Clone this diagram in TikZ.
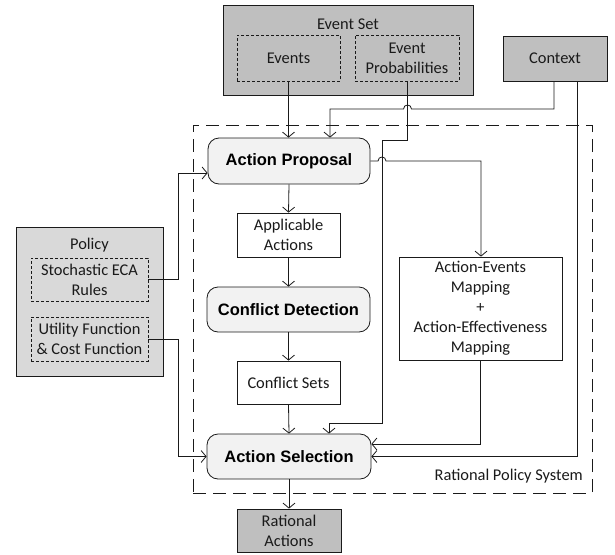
\documentclass[tikz,border=0pt]{standalone}
\usepackage{fontspec}
\setmainfont{Carlito}
\newfontfamily\arialfont{Liberation Sans}
\usetikzlibrary{arrows.meta}
\definecolor{darkfill}{HTML}{BFBFBF}
\definecolor{lightfill}{HTML}{D9D9D9}
\definecolor{procfill}{HTML}{F2F2F2}
\definecolor{ink}{HTML}{1A1A1A}
\tikzset{
  txt/.style={font=\fontsize{16.4}{20}\selectfont, text=ink, align=center, inner sep=0pt},
  darkbox/.style={txt, draw=ink, line width=0.8pt, fill=darkfill},
  lightbox/.style={txt, draw=ink, line width=0.8pt, fill=lightfill},
  dashbox/.style={txt, draw=ink, line width=0.7pt, dash pattern=on 3pt off 2pt},
  plainbox/.style={txt, draw=ink, line width=0.8pt, fill=white},
  proc/.style={draw=ink, line width=0.8pt, fill=procfill, rounded corners=11pt, inner sep=0pt,
    align=center, text=black, font=\arialfont\bfseries\fontsize{16.5}{20}\selectfont},
  sysbox/.style={draw=ink, line width=0.8pt, dash pattern=on 13pt off 7pt, inner sep=0pt},
  wire/.style={draw=ink, line width=0.8pt},
  arr/.style={wire, -{Straight Barb[length=5pt,width=12pt]}},
}
\begin{document}
\begin{tikzpicture}[x=1pt,y=-1pt]
\useasboundingbox (0,0) rectangle (615,554);
% system boundary
\node[sysbox, minimum width=399pt, minimum height=368pt] (sys) at (392.5,309) {};
\node[txt, anchor=east] (rpslbl) at (583,476) {Rational Policy System};
% event set
\node[darkbox, minimum width=250pt, minimum height=90pt] (es) at (348,50) {};
\node[txt] (eslbl) at (348,24) {Event Set};
\node[dashbox, minimum width=103pt, minimum height=46pt] (ev) at (288.5,58) {Events};
\node[dashbox, minimum width=104pt, minimum height=46pt] (ep) at (407,58) {Event\\Probabilities};
% context
\node[darkbox, minimum width=104pt, minimum height=45pt] (ctx) at (555,58.5) {Context};
% main column
\node[proc, minimum width=162pt, minimum height=46pt] (ap) at (289,161) {Action Proposal};
\node[plainbox, minimum width=103pt, minimum height=44pt] (aa) at (288.5,235) {Applicable\\Actions};
\node[proc, minimum width=163pt, minimum height=45pt] (cd) at (288.5,309.5) {Conflict Detection};
\node[plainbox, minimum width=103pt, minimum height=43pt] (cs) at (288.5,382.5) {Conflict Sets};
\node[proc, minimum width=164pt, minimum height=45pt] (as) at (289,456.5) {Action Selection};
\node[darkbox, minimum width=104pt, minimum height=43pt] (ra) at (289,530.5) {Rational\\Actions};
% mapping
\node[plainbox, minimum width=163pt, minimum height=103pt] (aem) at (480.5,308.5)
  {Action-Events\\Mapping\\+\\Action-Effectiveness\\Mapping};
% policy
\node[lightbox, minimum width=147pt, minimum height=149pt] (pol) at (89.5,301.5) {};
\node[txt] (pollbl) at (89.5,245) {Policy};
\node[dashbox, minimum width=117pt, minimum height=43pt] (sr) at (89.5,279.5) {Stochastic ECA\\Rules};
\node[dashbox, minimum width=117pt, minimum height=44pt] (uf) at (89.5,339) {Utility Function\\\& Cost Function};
% connectors
\draw[arr] (ev.south) -- (ev.south |- ap.north);
\draw[arr] (ctx.south -| 554,0) -- (554,109) -- (411.5,109)
  .. controls (411.5,103.7) and (403.5,103.7) .. (403.5,109) -- (330,109) -- (330,0 |- ap.north);
\draw[arr] (ep.south) -- (407,140) -- (382,140) -- (382,423) -- (329,423) -- (329,0 |- as.north);
\draw[arr] (ap.east) -- (378,161) .. controls (378,155.7) and (386,155.7) .. (386,161)
  -- (481,161) -- (481,0 |- aem.north);
\draw[arr] (aem.south) -- (480.5,444) -- (as.east |- 0,444);
\draw[arr] (ctx.south -| 577,0) -- (577,456.5) -- (as.east);
\draw[arr] (sr.east) -- (178,279.5) -- (178,173) -- (ap.west |- 0,173);
\draw[arr] (uf.east) -- (178,339) -- (178,456.5) -- (as.west);
\draw[arr] (ap.south) -- (aa.north);
\draw[arr] (aa.south) -- (cd.north);
\draw[arr] (cd.south) -- (cs.north);
\draw[arr] (cs.south) -- (as.north);
\draw[arr] (as.south) -- (ra.north);
\end{tikzpicture}
\end{document}
